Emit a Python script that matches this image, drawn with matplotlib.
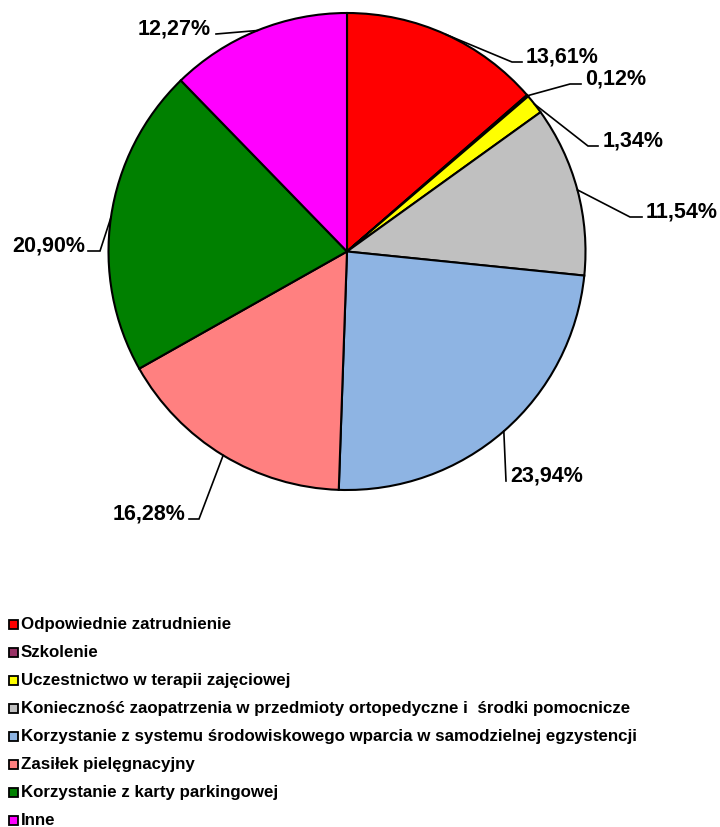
import matplotlib
matplotlib.use("Agg")
import matplotlib.pyplot as plt
from matplotlib.patches import Rectangle
import numpy as np

categories = [
    "Odpowiednie zatrudnienie",
    "Szkolenie",
    "Uczestnictwo w terapii zajęciowej",
    "Konieczność zaopatrzenia w przedmioty ortopedyczne i  środki pomocnicze",
    "Korzystanie z systemu środowiskowego wparcia w samodzielnej egzystencji",
    "Zasiłek pielęgnacyjny",
    "Korzystanie z karty parkingowej",
    "Inne",
]
values = [13.61, 0.12, 1.34, 11.54, 23.94, 16.28, 20.90, 12.27]
colors = ["#FF0000", "#993366", "#FFFF00", "#C0C0C0", "#8EB4E3", "#FF8080", "#008000", "#FF00FF"]

W, H = 720, 828
FONT = "Liberation Sans"

def P(px, py):
    """pixel (from top-left) -> data coords"""
    return px, H - py

fig = plt.figure(figsize=(W / 100, H / 100), dpi=100)
ax = fig.add_axes([0, 0, 1, 1])

cx, cy = P(347, 252.5)
R = 238.5
wedges, _ = ax.pie(values, colors=colors, startangle=90, counterclock=False,
                   radius=R, center=(cx, cy),
                   wedgeprops=dict(edgecolor="black", linewidth=1.5))
ax.set_xlim(0, W)
ax.set_ylim(0, H)
ax.set_aspect("equal")
ax.axis("off")

# label layout: elbow point (px), tail end x (px), text anchor x, alignment
label_layout = [
    ((512, 63), 522, 526, "left"),
    ((570, 85), 581, 585, "left"),
    ((588, 147), 598, 603, "left"),
    ((630, 218), 642, 646, "left"),
    ((506, 482), 506, 510, "left"),
    ((199, 520), 189, 186, "right"),
    ((100, 252), 88, 85, "right"),
    ((216, 35), 216, 211, "right"),
]

for w, v, (elbow, tailx, textx, ha) in zip(wedges, values, label_layout):
    mid = np.deg2rad((w.theta1 + w.theta2) / 2)
    sx, sy = cx + R * np.cos(mid), cy + R * np.sin(mid)
    ex, ey = P(*elbow)
    ax.plot([sx, ex, tailx], [sy, ey, ey], color="black", lw=1.2,
            solid_joinstyle="miter", zorder=5)
    ax.text(textx, ey + 0.5, f"{v:.2f}".replace(".", ",") + "%",
            ha=ha, va="baseline", fontsize=15.5, fontweight="bold",
            family=FONT, color="black")

# legend
for i, (lab, c) in enumerate(zip(categories, colors)):
    yc = 625 + 28 * i
    x0, y0 = P(9, yc + 4.5)
    ax.add_patch(Rectangle((x0, y0), 9, 9, facecolor=c, edgecolor="black",
                           linewidth=1.3, zorder=5))
    tx, ty = P(21, yc)
    ax.text(tx, ty, lab, ha="left", va="center", fontsize=12.2,
            fontweight="bold", family=FONT, color="black")

fig.savefig("out.png", dpi=100)
